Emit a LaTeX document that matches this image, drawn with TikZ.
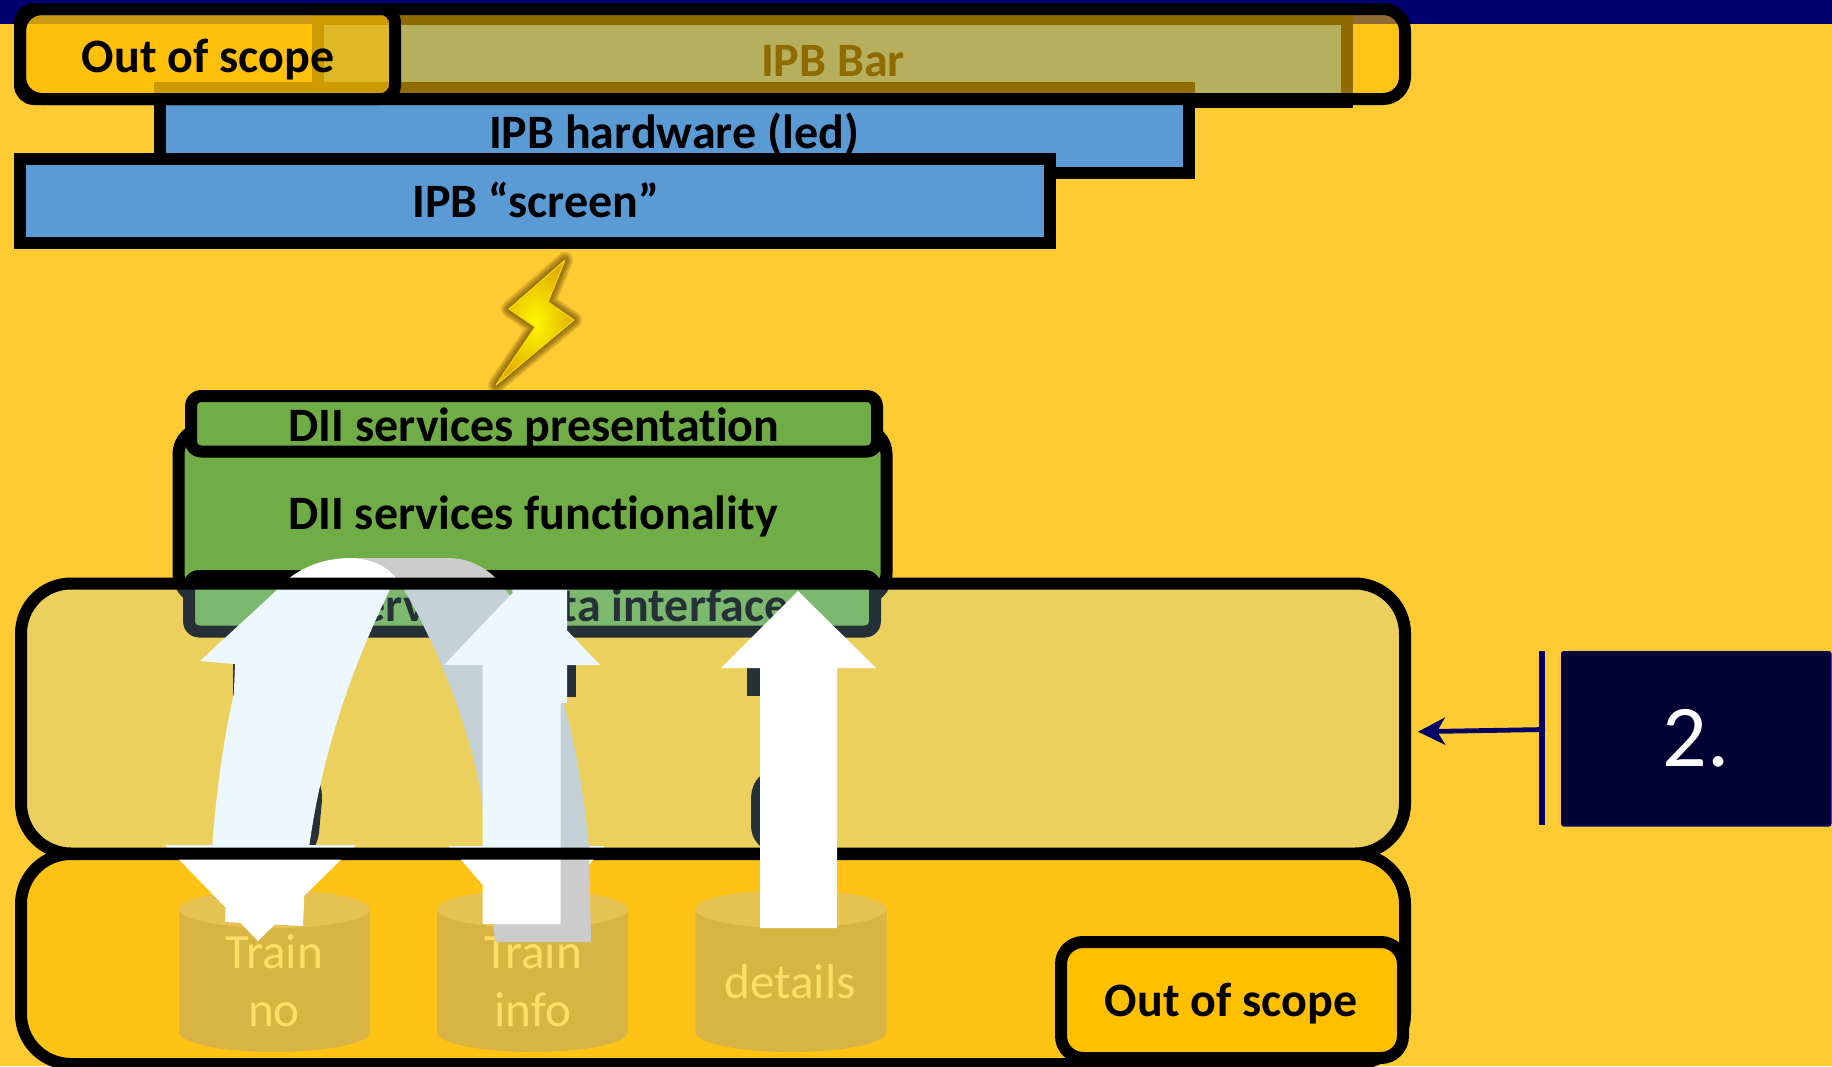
\documentclass[tikz,border=0pt]{standalone}
\usepackage{fontspec}
\setmainfont[Ligatures=NoCommon]{Carlito}
\usetikzlibrary{arrows.meta}
\definecolor{bgy}{HTML}{FFCB32}
\definecolor{navyb}{HTML}{000070}
\definecolor{navyd}{HTML}{000033}
\definecolor{navyl}{HTML}{000066}
\definecolor{blueb}{HTML}{5B9BD5}
\definecolor{oos}{HTML}{FFC000}
\definecolor{greenb}{HTML}{70AD47}
\definecolor{tint}{HTML}{ACE3FE}
\definecolor{cylb}{HTML}{D8B444}
\definecolor{cylt}{HTML}{E5C251}
\definecolor{cylx}{HTML}{FFDD66}
\definecolor{lowf}{HTML}{FFC316}
\definecolor{arcg}{HTML}{CCCCCC}
\definecolor{halo}{HTML}{5A4000}
\definecolor{boltout}{HTML}{E0AE00}
\tikzset{
  px/.style={x=0.5pt,y=-0.5pt},
  heavy/.style={draw=black,line width=6pt,line join=round},
  boldlab/.style={font=\fontsize{24}{28}\selectfont\bfseries,text=black,inner sep=0pt,anchor=center},
  cyllab/.style={font=\fontsize{24.6}{29}\selectfont,text=cylx,inner sep=0pt,align=center,anchor=center},
  boltpath/.style={line join=round},
}
\newcommand{\boltshape}{(565,260) -- (509,309) -- (535,327) -- (496,385) -- (574,320) -- (548,302) -- cycle}
\begin{document}
\begin{tikzpicture}[px]
\useasboundingbox (0,0) rectangle (1832,1066);
\fill[bgy] (0,0) rectangle (1832,1066);
\fill[navyb] (0,0) rectangle (1832,24);
% IPB bar (under the tint)
\draw[heavy,fill=blueb,line join=miter] (318,19) rectangle (1347,102);
\node[boldlab] (ipbbar) at (833,61) {IPB Bar};
% IPB hardware
\draw[heavy,fill=blueb,line join=miter] (160,88) rectangle (1189,173);
\node[boldlab] (ipbhw) at (674,134.5) {IPB hardware (led)};
% tinted frame
\fill[oos,fill opacity=.56,rounded corners=11] (20,9) rectangle (1405,99);
\fill[oos,fill opacity=.56,rounded corners=7] (20,9) rectangle (395,99);
\draw[heavy,rounded corners=11] (20,9) rectangle (1405,99);
\draw[heavy,rounded corners=7] (20,9) rectangle (395,99);
\node[boldlab] (oos1) at (208,60) {Out of scope};
% screen
\draw[heavy,fill=blueb,line join=miter] (20,158.5) rectangle (1050,243);
\node[boldlab] (ipbsc) at (536,200) {IPB “screen”};
% bolt
\foreach \w in {8,6.5,5,3.6,2.2}{
  \draw[halo,opacity=.17,line width=\w pt,boltpath] \boltshape;
}
\shade[inner color=yellow!95!orange,outer color=boltout,shading=radial] \boltshape;
\draw[yellow!75!orange,line width=.5pt,boltpath] \boltshape;
% DII
\draw[heavy,fill=greenb,rounded corners=13] (178.5,428) rectangle (886.5,600);
\draw[heavy,fill=greenb,rounded corners=5] (191,396) rectangle (877,451.5);
\node[boldlab] (diip) at (534,428.5) {DII services presentation};
\node[boldlab] (diif) at (533,516.5) {DII services functionality};
\draw[heavy,fill=greenb,rounded corners=5] (189,576) rectangle (875,631.5);
\node[boldlab] (diid) at (532,605) {DII services data interface};
% hidden dark pieces
\fill[black] (233,663) rectangle (250,696);
\fill[black] (555,665) rectangle (576,697);
\fill[black] (747,668) rectangle (770,696);
\fill[black] (317,778) .. controls (321,785) and (322,790) .. (322,800) -- (319,833)
   .. controls (318,840) and (316,844) .. (314,848) -- (295,848) -- (295,778) -- cycle;
\fill[black] (765,773) .. controls (755,778) and (751,788) .. (751,800) -- (751,825)
   .. controls (751,835) and (755,843) .. (765,850) -- cycle;
\fill[black] (830,780) .. controls (838,795) and (838,802) .. (830,815) -- cycle;
% lower frame
\draw[heavy,fill=lowf,rounded corners=25] (21,854) rectangle (1405,1064);
% cylinders
\foreach \nm/\cx in {a/274.5,b/532.5,c/791}{
  \fill[cylb] (\cx-95.5,909) -- (\cx-95.5,1032) arc[start angle=180,end angle=360,x radius=95.5,y radius=-20] -- (\cx+95.5,909) -- cycle;
  \fill[cylt] (\cx,909) ellipse [x radius=95.5,y radius=19];
}
\node[cyllab] (cyla) at (274,980.5) {Train\\no};
\node[cyllab] (cylb) at (533,980.5) {Train\\info};
\node[cyllab] (cylc) at (790,982) {details};
% arrows under the overlay
\fill[white] (165,845) -- (356,845) -- (258,941) -- cycle;
\fill[white] (449,846) -- (605,846) -- (528,937) -- cycle;
\fill[arcg] (495,942) -- (591,942) -- (589,848) .. controls (581,760) and (560,650) .. (511,598)
   .. controls (495,572) and (475,558) .. (447,558) -- (351,558)
   .. controls (372,558) and (388,568) .. (396,577)
   .. controls (425,620) and (470,720) .. (482,800) -- (495,942) -- cycle;
\fill[white] (212,848) .. controls (220,740) and (240,650) .. (262,610)
   .. controls (285,570) and (320,558) .. (351,558)
   .. controls (372,558) and (388,568) .. (396,577)
   .. controls (365,640) and (325,730) .. (309,848) -- cycle;
\fill[white] (200,661) -- (277,590) -- (355,669) -- (313,668) -- (303,926) -- (225,922) -- (235,664) -- cycle;
\fill[white] (444,665) -- (522,583) -- (600,665) -- (560.5,665) -- (560.5,924) -- (482.5,924) -- (482.5,665) -- cycle;
\fill[white] (511,585) -- (567,585) -- (567,703) -- (522,703) -- (522,633) -- cycle;
% tinted big frame
\fill[tint,fill opacity=.22,rounded corners=25] (21,583.5) rectangle (1405,853.5);
\draw[heavy,rounded corners=25] (21,583.5) rectangle (1405,853.5);
% arrow on top
\fill[white] (798,591) -- (876,668) -- (837,668) -- (837,928) -- (760,928) -- (760,668) -- (721,668) -- cycle;
% out of scope 2
\draw[heavy,fill=oos,rounded corners=11] (1061,942) rectangle (1403,1058);
\node[boldlab] (oos2) at (1231,1003.5) {Out of scope};
% right
\node[draw=navyl,fill=navyd,line width=.75pt,minimum width=134.5pt,minimum height=87pt,inner sep=0pt,rounded corners=1pt,anchor=north west,font=\fontsize{44}{50}\selectfont,text=white] (num) at (1561,651) {2.};
\coordinate (bart) at (1542,651);
\coordinate (barb) at (1542,825);
\coordinate (barm) at (1545,729.5);
\coordinate (tipt) at (1418,731.7);
\draw[navyl,line width=2.75pt] (bart) -- (barb);
\draw[navyl,line width=2.4pt,-{Stealth[length=13.5pt,width=13.5pt,inset=4pt]}] (barm) -- (tipt);
\end{tikzpicture}
\end{document}
